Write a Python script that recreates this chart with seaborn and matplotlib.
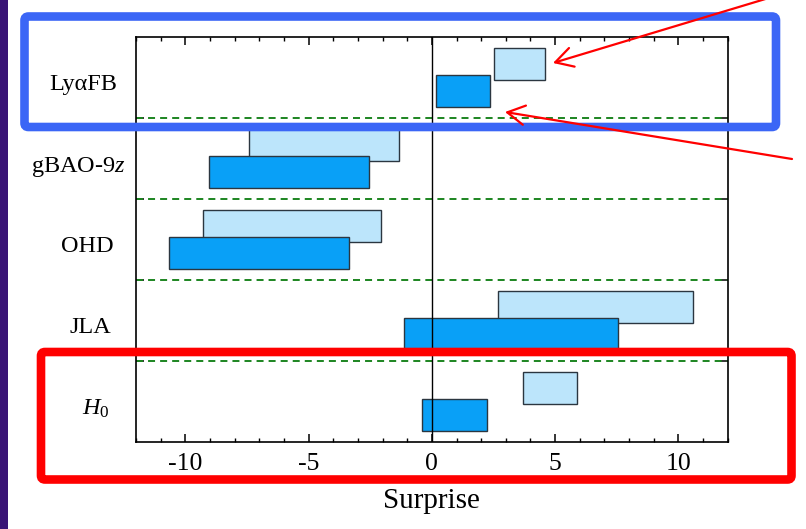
import numpy as np
import pandas as pd
import matplotlib
matplotlib.use("Agg")
import matplotlib.pyplot as plt
import matplotlib.transforms as mtransforms
import seaborn as sns
from matplotlib.patches import FancyBboxPatch, FancyArrowPatch, Rectangle
from matplotlib.ticker import FixedLocator, MultipleLocator

# ---- data ----
probes = ["LyαFB", "gBAO-9$z$", "OHD", "JLA", "$H_0$"]
series_names = ["upper", "lower"]
upper_lo = [2.53, -7.43, -9.30, 2.70, 3.71]
upper_hi = [4.57, -1.33, -2.07, 10.58, 5.88]
lower_lo = [0.16, -9.02, -10.66, -1.14, -0.38]
lower_hi = [2.36, -2.55, -3.36, 7.56, 2.24]
xtick_values = [-10, -5, 0, 5, 10]
xtick_labels = ["-10", "-5", "0", "5", "10"]

LIGHT = "#BCE5FB"
DARK = "#09A0F7"

sns.set_theme(style="ticks")
plt.rcParams["font.family"] = ["Liberation Serif", "DejaVu Serif"]
plt.rcParams["mathtext.fontset"] = "custom"
plt.rcParams["mathtext.rm"] = "Liberation Serif"
plt.rcParams["mathtext.it"] = "Liberation Serif:italic"

df = pd.DataFrame({
    "probe": probes * 2,
    "series": [series_names[0]] * len(probes) + [series_names[1]] * len(probes),
    "lo": upper_lo + lower_lo,
    "hi": upper_hi + lower_hi,
})

W, H = 806, 529
fig = plt.figure(figsize=(W / 100, H / 100), dpi=100)
fig.patch.set_facecolor("white")
ax = fig.add_axes([136 / W, 1 - 442 / H, (727.7 - 136) / W, (442 - 37) / H])

sns.barplot(data=df, y="probe", x="hi", hue="series", order=probes,
            hue_order=series_names, palette=[LIGHT, DARK], dodge=True,
            width=0.8, errorbar=None, legend=False, saturation=1,
            edgecolor="#2b3640", linewidth=1.0, ax=ax, zorder=2)

# turn bars into floating ranges and set their vertical placement
offsets = {series_names[0]: -0.165, series_names[1]: 0.17}
bar_h = 0.40
for p in ax.patches:
    c = p.get_y() + p.get_height() / 2
    cat = int(round(c))
    s = series_names[0] if c < cat else series_names[1]
    row = df[(df["probe"] == probes[cat]) & (df["series"] == s)].iloc[0]
    p.set_x(row["lo"])
    p.set_width(row["hi"] - row["lo"])
    p.set_y(cat + offsets[s] - bar_h / 2)
    p.set_height(bar_h)

ax.set_xlim(-12, 12)
ax.set_ylim(len(probes) - 0.5, -0.5)

# boundaries between rows
bounds = [i + 0.5 for i in range(len(probes) - 1)]
for b in bounds:
    ax.axhline(b, color="#1c8520", lw=1.4, ls=(0, (3.6, 2.6)), zorder=1)
ax.axvline(0, color="black", lw=1.0, zorder=3)

# ticks
ax.set_xticks(xtick_values, labels=xtick_labels)
ax.xaxis.set_minor_locator(MultipleLocator(1))
ax.tick_params(axis="x", which="both", direction="in", top=True, bottom=True,
               colors="black", labelsize=18.5, pad=8)
ax.tick_params(axis="x", which="major", length=6, width=1.1)
ax.tick_params(axis="x", which="minor", length=3.2, width=1.0)

ax.set_yticks([i + 0.06 for i in range(len(probes))], labels=probes)
ax.yaxis.set_minor_locator(FixedLocator(bounds))
ax.tick_params(axis="y", which="major", length=0, pad=16, labelsize=17.5,
               colors="black")
ax.tick_params(axis="y", which="minor", direction="in", left=True, right=True,
               length=5.5, width=1.1, color="black")

# small horizontal nudges of individual row labels (pixels)
label_shift_px = [3, 12, 0, -3, -4]
for lab, dx in zip(ax.get_yticklabels(), label_shift_px):
    lab.set_transform(lab.get_transform() +
                      mtransforms.ScaledTranslation(dx / 100, 0,
                                                    fig.dpi_scale_trans))

for sp in ax.spines.values():
    sp.set_visible(True)
    sp.set_color("black")
    sp.set_linewidth(1.2)

ax.set_ylabel("")
ax.set_xlabel("Surprise", fontsize=21, labelpad=9, color="black")

# ---- slide decorations ----
fig.add_artist(Rectangle((0, 0), 0.08, H / 100, transform=fig.dpi_scale_trans,
                         facecolor="#3a1476", edgecolor="none", zorder=5))


def px_box(x0, y0, x1, y1, color):
    # image-pixel coordinates (y down) -> inches
    return FancyBboxPatch((x0 / 100, (H - y1) / 100), (x1 - x0) / 100,
                          (y1 - y0) / 100,
                          boxstyle="round,pad=0,rounding_size=0.04",
                          transform=fig.dpi_scale_trans, facecolor="none",
                          edgecolor=color, lw=6.2, zorder=6)


fig.add_artist(px_box(24.5, 16.5, 776, 127, "#3b66f6"))
fig.add_artist(px_box(41, 352, 791.5, 479.5, "#ff0000"))


def px_arrow(tail, tip):
    return FancyArrowPatch(((tail[0]) / 100, (H - tail[1]) / 100),
                           ((tip[0]) / 100, (H - tip[1]) / 100),
                           transform=fig.dpi_scale_trans,
                           arrowstyle="->,head_length=12.5,head_width=7",
                           mutation_scale=1, color="#ff0000", lw=1.6,
                           shrinkA=0, shrinkB=0, zorder=7)


fig.add_artist(px_arrow((772, -3), (553, 63)))
fig.add_artist(px_arrow((792, 159), (505, 112)))

fig.savefig("out.png", dpi=100, facecolor="white")
